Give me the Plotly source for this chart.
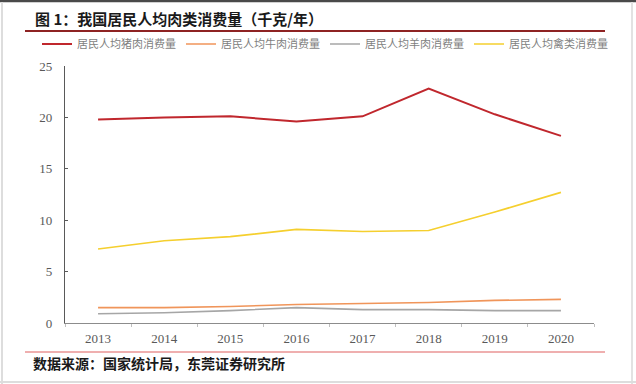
import plotly.graph_objects as go

years = ["2013", "2014", "2015", "2016", "2017", "2018", "2019", "2020"]
pork = [19.8, 20.0, 20.1, 19.6, 20.1, 22.8, 20.3, 18.2]
beef = [1.5, 1.5, 1.6, 1.8, 1.9, 2.0, 2.2, 2.3]
mutton = [0.9, 1.0, 1.2, 1.5, 1.3, 1.3, 1.2, 1.2]
poultry = [7.2, 8.0, 8.4, 9.1, 8.9, 9.0, 10.8, 12.7]

series_names = ["居民人均猪肉消费量", "居民人均牛肉消费量", "居民人均羊肉消费量", "居民人均禽类消费量"]
series_colors = ["#C0272D", "#F0955A", "#A6A6A6", "#F5CF2E"]
series_widths = [2, 1.6, 1.6, 1.7]
series_values = [pork, beef, mutton, poultry]

title_text = "图 1：我国居民人均肉类消费量（千克/年）"
source_text = "数据来源：国家统计局，东莞证券研究所"

W, H = 636, 384
L, R, T, B = 65, 42, 66, 61
PW = W - L - R
PH = H - T - B


def px(x):
    return (x - L) / PW


def py(y):
    return (H - B - y) / PH


fig = go.Figure()
for name, vals, col, w in zip(series_names, series_values, series_colors, series_widths):
    fig.add_trace(go.Scatter(x=years, y=vals, name=name, mode="lines",
                             line=dict(color=col, width=w)))

shapes = [
    # title underline
    dict(type="line", xref="paper", yref="paper", x0=px(25), x1=px(605), y0=py(31), y1=py(31),
         line=dict(color="#8E2323", width=2)),
    # bottom line
    dict(type="line", xref="paper", yref="paper", x0=px(25), x1=px(605), y0=py(352), y1=py(352),
         line=dict(color="#E06060", width=1.2)),
    # frame
    dict(type="line", xref="paper", yref="paper", x0=px(0), x1=px(636), y0=py(1), y1=py(1),
         line=dict(color="#4A4A4A", width=2.5)),
    dict(type="line", xref="paper", yref="paper", x0=px(2), x1=px(2), y0=py(2), y1=py(384),
         line=dict(color="#DDDDDD", width=2)),
    dict(type="line", xref="paper", yref="paper", x0=px(632), x1=px(632), y0=py(2), y1=py(384),
         line=dict(color="#E2E2E2", width=2)),
    dict(type="line", xref="paper", yref="paper", x0=px(0), x1=px(636), y0=py(382), y1=py(382),
         line=dict(color="#DDDDDD", width=2)),
]

annotations = [
    dict(text=title_text, xref="paper", yref="paper", x=px(33), y=py(19), xanchor="left",
         yanchor="middle", showarrow=False,
         font=dict(family="Noto Sans CJK SC", size=15, color="#1A1A1A", weight="bold")),
    dict(text=source_text, xref="paper", yref="paper", x=px(31), y=py(363), xanchor="left",
         yanchor="middle", showarrow=False,
         font=dict(family="Noto Sans CJK SC", size=14, color="#1A1A1A", weight="bold")),
]

fig.update_layout(
    width=W, height=H,
    margin=dict(l=L, r=R, t=T, b=B, autoexpand=False),
    paper_bgcolor="white", plot_bgcolor="white",
    showlegend=True,
    legend=dict(orientation="h", x=px(37), y=py(44), xanchor="left", yanchor="middle",
                font=dict(family="Noto Sans CJK SC", size=11, color="#7F7F7F"),
                entrywidth=99, entrywidthmode="pixels", bgcolor="rgba(0,0,0,0)",
                itemclick=False, tracegroupgap=0),
    shapes=shapes,
    annotations=annotations,
    xaxis=dict(type="category", showgrid=False, showline=True, linecolor="#8C8C8C", linewidth=1,
               ticks="outside", ticklen=3, tickcolor="#BFBFBF", tickson="boundaries",
               ticklabelstandoff=3,
               tickfont=dict(family="Liberation Serif", size=13, color="#595959"),
               range=[-0.5, 7.5], fixedrange=True),
    yaxis=dict(range=[0, 25], dtick=5, showgrid=False, showline=True, linecolor="#595959",
               linewidth=1.2, ticks="inside", ticklen=3, tickcolor="#595959", zeroline=False,
               ticklabelstandoff=9,
               tickfont=dict(family="Liberation Serif", size=13, color="#595959"),
               fixedrange=True),
)

fig.write_html("out.html", config={"displayModeBar": False},
               post_script="document.body.style.margin='0';document.body.style.overflow='hidden';")
